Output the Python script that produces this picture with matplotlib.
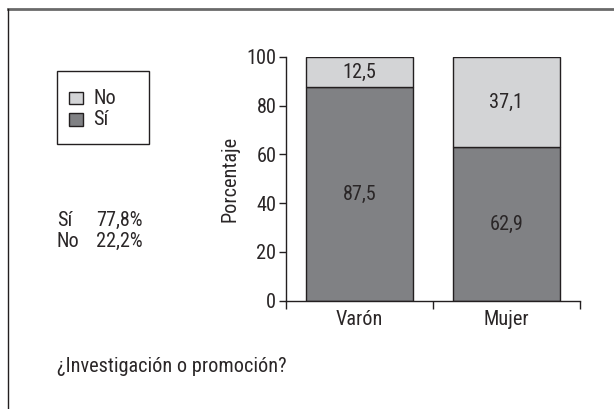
import matplotlib
matplotlib.use("Agg")
import matplotlib.pyplot as plt
from matplotlib.patches import Rectangle
from matplotlib.lines import Line2D

categories = ["Varón", "Mujer"]
si_values = [87.5, 62.9]
no_values = [12.5, 37.1]
si_labels = ["87,5", "62,9"]
no_labels = ["12,5", "37,1"]
yticks = [0, 20, 40, 60, 80, 100]
legend_labels = ["No", "Sí"]
summary_rows = [("Sí", "77,8%"), ("No", "22,2%")]
caption = "¿Investigación o promoción?"
ylabel = "Porcentaje"

plt.rcParams['font.family'] = ['Roboto Condensed', 'DejaVu Sans']

W, H = 614, 409
fig = plt.figure(figsize=(W / 100, H / 100), dpi=100)

def fx(x):
    return x / W

def fy(y):
    return 1 - y / H

dark = "#808184"
light = "#d3d4d6"
edge = "#231f20"
txt = "#2a2627"
fs = 14.6

# outer frame (top and left lines)
fig.add_artist(Line2D([fx(8), fx(614)], [fy(9), fy(9)], color="#6a6a6a", lw=2.0,
                      transform=fig.transFigure))
fig.add_artist(Line2D([fx(8), fx(8)], [fy(9), fy(409)], color="#231f20", lw=1.0,
                      transform=fig.transFigure))

ax = fig.add_axes([fx(286), fy(300.7), (580 - 286) / W, (300.7 - 56.7) / H])
x = list(range(len(categories)))
width = 0.73
ax.bar(x, si_values, width=width, color=dark, edgecolor=edge, linewidth=1.0)
ax.bar(x, no_values, width=width, bottom=si_values, color=light, edgecolor=edge, linewidth=1.0)

for i in x:
    ax.text(i, si_values[i] / 2, si_labels[i], ha="center", va="center", fontsize=fs, color=txt)
    ax.text(i, si_values[i] + no_values[i] / 2, no_labels[i], ha="center", va="center",
            fontsize=fs, color=txt)

ax.set_xlim(-0.5, len(categories) - 0.5)
ax.set_ylim(0, 100)
ax.set_yticks(yticks)
ax.set_yticklabels([str(v) for v in yticks], fontsize=fs, color=txt)
ax.set_xticks([i - 0.5 for i in range(len(categories) + 1)])
ax.set_xticklabels([])
ax.set_xticks(x, minor=True)
ax.set_xticklabels(categories, minor=True, fontsize=fs, color=txt)
ax.tick_params(axis="x", which="major", direction="out", length=6, width=1, color=edge)
ax.tick_params(axis="x", which="minor", length=0, pad=7)
ax.tick_params(axis="y", direction="out", length=5, width=1, color=edge, pad=2)
for s in ["top", "right"]:
    ax.spines[s].set_visible(False)
for s in ["left", "bottom"]:
    ax.spines[s].set_color(edge)
    ax.spines[s].set_linewidth(1.0)
ax.set_ylabel(ylabel, fontsize=fs, color=txt, labelpad=5)
ax.patch.set_alpha(0)

# legend box
fig.add_artist(Rectangle((fx(56.7), fy(144.3)), (149 - 56.7) / W, (144.3 - 71) / H,
                         transform=fig.transFigure, facecolor="white", edgecolor=edge, lw=1.0))
legend_colors = [light, dark]
legend_y = [98, 119.5]
for lab, col, yy in zip(legend_labels, legend_colors, legend_y):
    fig.add_artist(Rectangle((fx(69), fy(yy + 6.2)), 14.3 / W, 12.4 / H,
                             transform=fig.transFigure, facecolor=col, edgecolor=edge, lw=1.0))
    fig.text(fx(93), fy(yy), lab, ha="left", va="center", fontsize=fs, color=txt)

for (a, b), yy in zip(summary_rows, [220, 241.7]):
    fig.text(fx(56.7), fy(yy), a, ha="left", va="center", fontsize=fs, color=txt)
    fig.text(fx(96), fy(yy), b, ha="left", va="center", fontsize=fs, color=txt)

fig.text(fx(56.7), fy(366.7), caption, ha="left", va="center", fontsize=fs, color=txt)

fig.savefig("out.png", dpi=100)
